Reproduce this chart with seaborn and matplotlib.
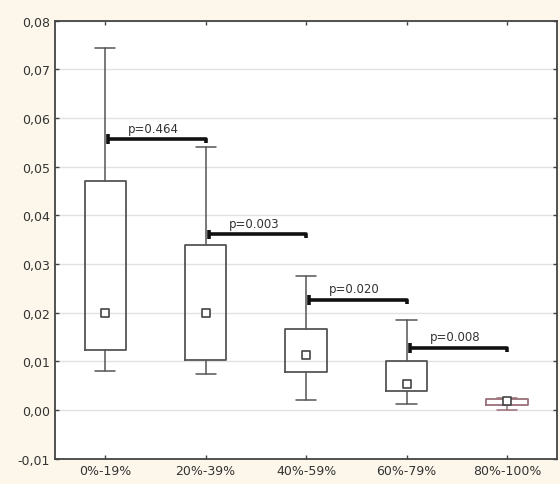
import numpy as np
import matplotlib
matplotlib.use("Agg")
import matplotlib.pyplot as plt
import seaborn as sns

# Box plot values (median, quartile box, min-max whiskers)
groups = ['0%-19%', '20%-39%', '40%-59%', '60%-79%', '80%-100%']
medians = [0.0200, 0.0200, 0.0113, 0.0054, 0.0018]
q1 = [0.0124, 0.0103, 0.0078, 0.0039, 0.0010]
q3 = [0.0470, 0.0339, 0.0167, 0.0101, 0.0023]
whisk_lo = [0.0080, 0.0074, 0.0021, 0.0012, 0.0001]
whisk_hi = [0.0744, 0.0540, 0.0276, 0.0186, 0.0025]
box_colors = ['#555555', '#555555', '#555555', '#555555', '#9a7079']

# p-values between neighbouring groups
p_labels = ['p=0.464', 'p=0.003', 'p=0.020', 'p=0.008']
p_levels = [0.0557, 0.0361, 0.0227, 0.0128]

y_ticks = [-0.01, 0.0, 0.01, 0.02, 0.03, 0.04, 0.05, 0.06, 0.07, 0.08]

sns.set_style("white")
plt.rcParams['font.family'] = ['DejaVu Sans']

fig = plt.figure(figsize=(5.6, 4.85), dpi=100, facecolor='#fcf7ea')
ax = fig.add_axes([0.098, 0.052, 0.897, 0.903])
ax.set_facecolor('white')

stats = []
for i, g in enumerate(groups):
    stats.append(dict(med=medians[i], q1=q1[i], q3=q3[i],
                      whislo=whisk_lo[i], whishi=whisk_hi[i], label=g))

pos = np.arange(len(groups))
for i, s in enumerate(stats):
    c = box_colors[i]
    ax.bxp([s], positions=[pos[i]], widths=0.41, showfliers=False,
           capwidths=0.2,
           boxprops=dict(color=c, linewidth=1.3),
           whiskerprops=dict(color=c, linewidth=1.1),
           capprops=dict(color=c, linewidth=1.1),
           medianprops=dict(linewidth=0))

# median markers
sns.scatterplot(x=pos, y=medians, marker='s', s=28, facecolor='white',
                edgecolor='#444444', linewidth=1.2, ax=ax, zorder=5)

# significance brackets
for i, (lab, lev) in enumerate(zip(p_labels, p_levels)):
    x0 = pos[i] + 0.03
    x1 = pos[i + 1]
    ax.plot([x0, x1, x1], [lev, lev, lev - 0.0008], color='#111111',
            linewidth=2.6, solid_capstyle='butt', zorder=6)
    ax.plot([x0, x0], [lev - 0.001, lev + 0.001], color='#111111',
            linewidth=2.6, solid_capstyle='butt', zorder=6)
    ax.text(pos[i] + 0.48, lev + 0.0009, lab, ha='center', va='bottom',
            fontsize=8.5, color='#333333')

ax.set_xlim(-0.5, 4.5)
ax.set_ylim(-0.01, 0.08)
ax.set_xticks(pos)
ax.set_xticklabels(groups)
ax.set_yticks(y_ticks)
ax.set_yticklabels([f"{v:.2f}".replace('.', ',') for v in y_ticks])
ax.yaxis.grid(True, color='#e2e2e2', linewidth=1.0)
ax.set_axisbelow(True)
ax.tick_params(axis='both', direction='in', length=3, width=1,
               colors='#444444', labelcolor='#333333', labelsize=9,
               top=True, right=True, left=True, bottom=True)
for sp in ax.spines.values():
    sp.set_color('#444444')
    sp.set_linewidth(1.3)

fig.savefig('out.png', dpi=100, facecolor=fig.get_facecolor())
